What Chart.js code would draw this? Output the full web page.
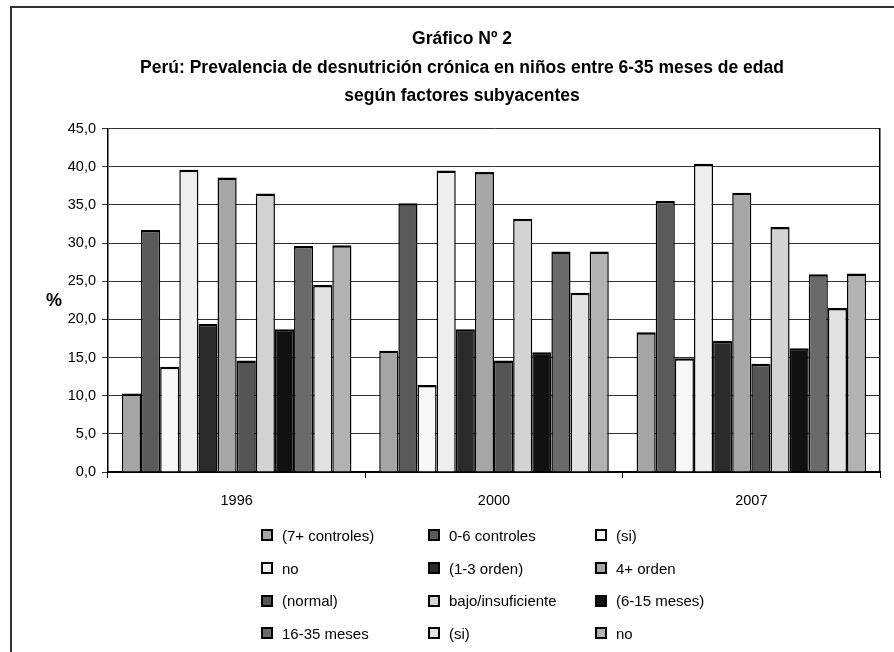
<!DOCTYPE html>
<html>
<head>
<meta charset="utf-8">
<script src="https://cdn.jsdelivr.net/npm/chart.js@4.4.1/dist/chart.umd.min.js"></script>
<style>
  html, body { margin: 0; padding: 0; background: #fff; overflow: hidden; width: 894px; height: 652px; }
  #frame { position: absolute; left: 10px; top: 6px; width: 904px; height: 700px;
           border-left: 2px solid #333; border-top: 2px solid #333; }
  #chart { display: block; }
  #legend { position: absolute; left: 260px; top: 519px; display: grid;
            grid-template-columns: 167px 167px 167px; grid-auto-rows: 32.7px;
            font-family: 'Liberation Sans', Arial, sans-serif;
            font-size: 15px; color: #000; }
  .item { display: flex; align-items: center; white-space: nowrap; }
  .box { width: 8px; height: 8px; border: 2px solid #000; margin-right: 9px; margin-left: 1px; }
</style>
</head>
<body>
<div id="frame"><canvas id="chart" width="900" height="646"></canvas></div>
<div id="legend"></div>
<script>
const years = ['1996', '2000', '2007'];
const seriesNames = ['(7+ controles)', '0-6 controles', '(si)', 'no', '(1-3 orden)', '4+ orden',
                     '(normal)', 'bajo/insuficiente', '(6-15 meses)', '16-35 meses', '(si)', 'no'];

// values per factor, one number per year
const controles7 = [10.3, 15.9, 18.3];
const controles06 = [31.7, 35.2, 35.5];
const aguaSi = [13.8, 11.4, 14.9];
const aguaNo = [39.6, 39.5, 40.4];
const orden13 = [19.4, 18.7, 17.2];
const orden4 = [38.6, 39.3, 36.6];
const pesoNormal = [14.6, 14.6, 14.2];
const pesoBajo = [36.5, 33.2, 32.1];
const meses615 = [18.7, 15.7, 16.2];
const meses1635 = [29.6, 28.9, 25.9];
const desaguesSi = [24.5, 23.5, 21.5];
const desaguesNo = [29.7, 28.9, 26.0];

const seriesValues = [controles7, controles06, aguaSi, aguaNo, orden13, orden4,
                      pesoNormal, pesoBajo, meses615, meses1635, desaguesSi, desaguesNo];
const fills = ['#a5a5a5', '#5a5a5a', '#f8f8f8', '#eeeeee', '#2a2a2a', '#a6a6a6',
               '#555555', '#d3d3d3', '#111111', '#6a6a6a', '#e2e2e2', '#b2b2b2'];

const fontFam = "'Liberation Sans', Arial, sans-serif";
Chart.defaults.font.family = fontFam;
Chart.defaults.color = '#000';

// the "%" label sits horizontally left of the y axis
const percentLabel = {
  id: 'percentLabel',
  afterDraw(chart) {
    const { ctx, chartArea } = chart;
    ctx.save();
    ctx.font = 'bold 18px ' + fontFam;
    ctx.fillStyle = '#000';
    ctx.textAlign = 'center';
    ctx.textBaseline = 'middle';
    ctx.fillText('%', chartArea.left - 54, (chartArea.top + chartArea.bottom) / 2 + 1);
    ctx.restore();
  }
};

const chart = new Chart(document.getElementById('chart'), {
  type: 'bar',
  data: {
    labels: years,
    datasets: seriesValues.map((vals, i) => ({
      label: seriesNames[i],
      data: vals,
      backgroundColor: fills[i],
      borderColor: '#000',
      borderWidth: { top: 2.5, left: 1.5, right: 1.5, bottom: 0 },
      borderSkipped: false,
      categoryPercentage: 0.892,
      barPercentage: 1.0
    }))
  },
  options: {
    responsive: false,
    animation: false,
    layout: { padding: 0 },
    plugins: {
      legend: { display: false },
      tooltip: { enabled: false },
      title: {
        display: true,
        text: ['Gráfico Nº 2',
               'Perú: Prevalencia de desnutrición crónica en niños entre 6-35 meses de edad',
               'según factores subyacentes'],
        color: '#000',
        font: { size: 17.5, weight: 'bold', lineHeight: 1.63 },
        padding: { top: 17, bottom: 18 }
      }
    },
    scales: {
      x: {
        grid: { offset: true, drawOnChartArea: false, drawTicks: true, tickLength: 6, color: '#000', lineWidth: 1 },
        border: { color: '#000', width: 2 },
        ticks: { font: { size: 14.5 }, color: '#000', padding: 14 },
        afterFit(scale) { scale.height = 182; }
      },
      y: {
        min: 0,
        max: 45,
        ticks: {
          stepSize: 5,
          font: { size: 14.5 },
          color: '#000',
          padding: 6,
          callback: v => v.toFixed(1).replace('.', ',')
        },
        grid: { color: '#333', lineWidth: 1, tickLength: 6 },
        border: { color: '#000', width: 1.5 },
        afterFit(scale) { scale.width = 96; }
      },
      y2: {
        position: 'right',
        min: 0,
        max: 45,
        ticks: { display: false },
        grid: { drawOnChartArea: false, drawTicks: false },
        border: { color: '#000', width: 1.5 },
        afterFit(scale) { scale.width = 32; }
      }
    }
  },
  plugins: [percentLabel]
});

// legend as a 3-column grid, built from the datasets
const legendEl = document.getElementById('legend');
chart.data.datasets.forEach(ds => {
  const item = document.createElement('div');
  item.className = 'item';
  const box = document.createElement('span');
  box.className = 'box';
  box.style.background = ds.backgroundColor;
  const txt = document.createElement('span');
  txt.textContent = ds.label;
  item.appendChild(box);
  item.appendChild(txt);
  legendEl.appendChild(item);
});
</script>
</body>
</html>
